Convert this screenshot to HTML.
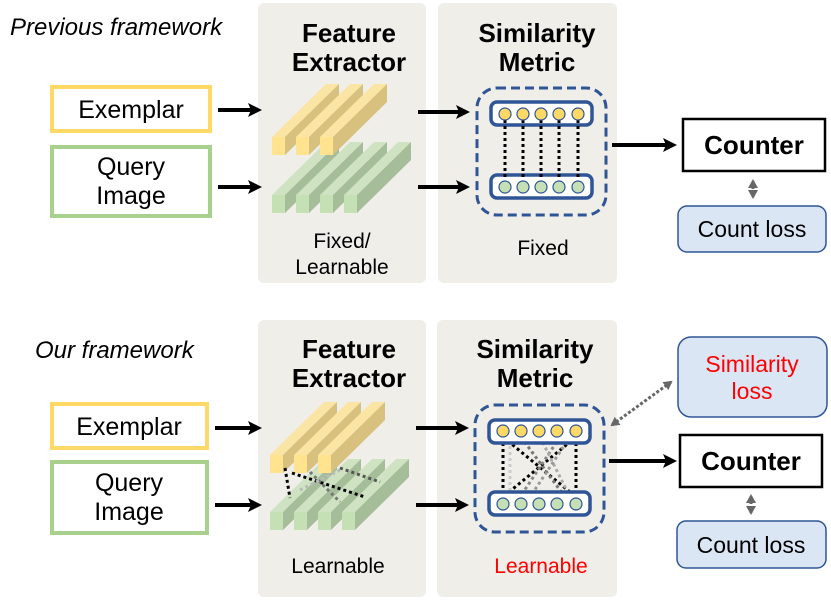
<!DOCTYPE html>
<html><head><meta charset="utf-8"><style>
html,body{margin:0;padding:0;background:#fff;}
svg{display:block;}
text{font-family:"Liberation Sans",sans-serif;}
</style></head><body>
<svg width="831" height="603" viewBox="0 0 831 603" xmlns="http://www.w3.org/2000/svg">
<defs>
<g id="yb">
 <polygon points="0,0 13,0 67,-53 54,-53" fill="#fbe5a4"/>
 <polygon points="13,0 13,18 67,-35 67,-53" fill="#d8c07f"/>
 <rect x="0" y="0" width="13" height="18" fill="#ffe38f"/>
</g>
<g id="gb">
 <polygon points="0,0 13,0 67,-53 54,-53" fill="#cfe3c2"/>
 <polygon points="13,0 13,18 67,-35 67,-53" fill="#a5bd98"/>
 <rect x="0" y="0" width="13" height="18" fill="#c5e0b4"/>
</g>
<marker id="ah" markerWidth="14" markerHeight="16" refX="10" refY="8" orient="auto" markerUnits="userSpaceOnUse">
 <path d="M0,1 L14,8 L0,15 L3,8 Z" fill="#000"/>
</marker>
<marker id="gh" markerWidth="10" markerHeight="10" refX="7" refY="5" orient="auto-start-reverse" markerUnits="userSpaceOnUse">
 <path d="M0,0 L9,5 L0,10 Z" fill="#666"/>
</marker>
<g id="nodes">
 <rect x="491" y="0" width="101" height="23" rx="6" fill="#fff" stroke="#2f5597" stroke-width="3.5"/>
</g>
</defs>

<!-- TOP -->
<text x="10" y="35" font-size="24" font-style="italic">Previous framework</text>
<rect x="258" y="3" width="168" height="280" rx="6" fill="#efeee9"/>
<rect x="438" y="3" width="179" height="280" rx="6" fill="#efeee9"/>
<text x="349" y="42" font-size="26" font-weight="bold" text-anchor="middle">Feature</text>
<text x="349" y="71" font-size="26" font-weight="bold" text-anchor="middle">Extractor</text>
<text x="537" y="42" font-size="26" font-weight="bold" text-anchor="middle">Similarity</text>
<text x="537" y="71" font-size="26" font-weight="bold" text-anchor="middle">Metric</text>

<rect x="52" y="87" width="158" height="44" fill="#fff" stroke="#ffd966" stroke-width="4"/>
<text x="131" y="118" font-size="25" text-anchor="middle">Exemplar</text>
<rect x="52" y="147" width="158" height="69" fill="#fff" stroke="#a9d18e" stroke-width="4"/>
<text x="131" y="175" font-size="25" text-anchor="middle">Query</text>
<text x="131" y="204" font-size="25" text-anchor="middle">Image</text>

<g stroke="#000" stroke-width="4" fill="none" marker-end="url(#ah)">
<line x1="218" y1="110" x2="258" y2="110"/>
<line x1="218" y1="187" x2="258" y2="187"/>
<line x1="418" y1="112" x2="466" y2="112"/>
<line x1="418" y1="187" x2="466" y2="187"/>
<line x1="612" y1="145" x2="673" y2="145"/>
</g>

<use href="#gb" x="272" y="195"/><use href="#gb" x="296" y="195"/><use href="#gb" x="320" y="195"/><use href="#gb" x="344" y="195"/>
<use href="#yb" x="272" y="137"/><use href="#yb" x="296" y="137"/><use href="#yb" x="320" y="137"/>

<text x="342" y="248" font-size="21" text-anchor="middle">Fixed/</text>
<text x="342" y="274" font-size="21" text-anchor="middle">Learnable</text>

<rect x="477" y="88" width="129" height="127" rx="20" fill="none" stroke="#2f5597" stroke-width="3" stroke-dasharray="9,5"/>
<use href="#nodes" y="102"/><use href="#nodes" y="175"/>
<g stroke="#000" stroke-width="3" stroke-dasharray="3,3">
<line x1="505" y1="120" x2="505" y2="180"/><line x1="523" y1="120" x2="523" y2="180"/><line x1="541" y1="120" x2="541" y2="180"/><line x1="559" y1="120" x2="559" y2="180"/><line x1="578" y1="120" x2="578" y2="180"/>
</g>
<g fill="#ffd966" stroke="#2f5597" stroke-width="1.2">
<circle cx="505" cy="114" r="6"/><circle cx="523" cy="114" r="6"/><circle cx="541" cy="114" r="6"/><circle cx="559" cy="114" r="6"/><circle cx="578" cy="114" r="6"/>
</g>
<g fill="#c5e0b4" stroke="#2f5597" stroke-width="1.2">
<circle cx="505" cy="187" r="6"/><circle cx="523" cy="187" r="6"/><circle cx="541" cy="187" r="6"/><circle cx="559" cy="187" r="6"/><circle cx="578" cy="187" r="6"/>
</g>
<text x="543" y="255" font-size="21" text-anchor="middle">Fixed</text>

<rect x="683" y="119" width="142" height="52" fill="#fff" stroke="#000" stroke-width="2.5"/>
<text x="754" y="154" font-size="26" font-weight="bold" text-anchor="middle">Counter</text>
<rect x="678" y="206" width="148" height="46" rx="9" fill="#dae6f4" stroke="#2f5597" stroke-width="1.5"/>
<text x="752" y="237" font-size="23" text-anchor="middle">Count loss</text>
<line x1="753" y1="181" x2="753" y2="197" stroke="#666" stroke-width="3" stroke-dasharray="3,2" marker-end="url(#gh)" marker-start="url(#gh)"/>

<!-- BOTTOM -->
<text x="35" y="358" font-size="24" font-style="italic">Our framework</text>
<rect x="258" y="320" width="168" height="277" rx="6" fill="#efeee9"/>
<rect x="437" y="320" width="180" height="277" rx="6" fill="#efeee9"/>
<text x="349" y="358" font-size="26" font-weight="bold" text-anchor="middle">Feature</text>
<text x="349" y="387" font-size="26" font-weight="bold" text-anchor="middle">Extractor</text>
<text x="535" y="358" font-size="26" font-weight="bold" text-anchor="middle">Similarity</text>
<text x="535" y="387" font-size="26" font-weight="bold" text-anchor="middle">Metric</text>

<rect x="52" y="404" width="155" height="44" fill="#fff" stroke="#ffd966" stroke-width="4"/>
<text x="129" y="435" font-size="25" text-anchor="middle">Exemplar</text>
<rect x="52" y="462" width="155" height="71" fill="#fff" stroke="#a9d18e" stroke-width="4"/>
<text x="129" y="491" font-size="25" text-anchor="middle">Query</text>
<text x="129" y="520" font-size="25" text-anchor="middle">Image</text>

<g stroke="#000" stroke-width="4" fill="none" marker-end="url(#ah)">
<line x1="215" y1="428" x2="258" y2="428"/>
<line x1="215" y1="505" x2="258" y2="505"/>
<line x1="416" y1="428" x2="465" y2="428"/>
<line x1="416" y1="505" x2="465" y2="505"/>
<line x1="609" y1="461" x2="673" y2="461"/>
</g>

<use href="#gb" x="270" y="512"/><use href="#gb" x="294" y="512"/><use href="#gb" x="318" y="512"/><use href="#gb" x="342" y="512"/>
<use href="#yb" x="270" y="455"/><use href="#yb" x="294" y="455"/><use href="#yb" x="318" y="455"/>
<g stroke-width="3" stroke-dasharray="3,3" fill="none">
<line x1="285" y1="468" x2="290" y2="498" stroke="#000"/>
<line x1="292" y1="473" x2="365" y2="497" stroke="#000"/>
<line x1="310" y1="472" x2="340" y2="502" stroke="#777"/>
<line x1="340" y1="468" x2="380" y2="482" stroke="#555"/>
<line x1="300" y1="490" x2="340" y2="470" stroke="#bbb"/>
</g>
<text x="338" y="573" font-size="21" text-anchor="middle">Learnable</text>

<rect x="475" y="405" width="129" height="127" rx="20" fill="none" stroke="#2f5597" stroke-width="3" stroke-dasharray="9,5"/>
<g stroke-width="3" stroke-dasharray="3,3">
<line x1="503" y1="437" x2="503" y2="497" stroke="#000"/>
<line x1="576" y1="437" x2="576" y2="497" stroke="#000"/>
<line x1="503" y1="437" x2="576" y2="497" stroke="#000"/>
<line x1="576" y1="437" x2="503" y2="497" stroke="#000"/>
<line x1="521" y1="437" x2="565" y2="497" stroke="#777"/>
<line x1="560" y1="437" x2="520" y2="497" stroke="#888"/>
<line x1="510" y1="440" x2="510" y2="497" stroke="#ccc"/>
<line x1="540" y1="437" x2="570" y2="497" stroke="#aaa"/>
<line x1="570" y1="437" x2="530" y2="497" stroke="#999"/>
</g>
<use href="#nodes" x="-2" y="420"/><use href="#nodes" x="-2" y="492"/>
<g fill="#ffd966" stroke="#2f5597" stroke-width="1.2">
<circle cx="503" cy="431" r="6"/><circle cx="521" cy="431" r="6"/><circle cx="539" cy="431" r="6"/><circle cx="557" cy="431" r="6"/><circle cx="576" cy="431" r="6"/>
</g>
<g fill="#c5e0b4" stroke="#2f5597" stroke-width="1.2">
<circle cx="503" cy="504" r="6"/><circle cx="521" cy="504" r="6"/><circle cx="539" cy="504" r="6"/><circle cx="557" cy="504" r="6"/><circle cx="576" cy="504" r="6"/>
</g>
<text x="541" y="573" font-size="21" text-anchor="middle" fill="#ff0000">Learnable</text>

<rect x="678" y="337" width="149" height="80" rx="13" fill="#dae6f4" stroke="#2f5597" stroke-width="1.5"/>
<text x="752" y="372" font-size="23" text-anchor="middle" fill="#ff0000">Similarity</text>
<text x="752" y="399" font-size="23" text-anchor="middle" fill="#ff0000">loss</text>
<line x1="612" y1="425" x2="671" y2="382" stroke="#666" stroke-width="3" stroke-dasharray="3,2" marker-end="url(#gh)" marker-start="url(#gh)"/>

<rect x="680" y="435" width="142" height="52" fill="#fff" stroke="#000" stroke-width="2.5"/>
<text x="751" y="470" font-size="26" font-weight="bold" text-anchor="middle">Counter</text>
<rect x="677" y="521" width="149" height="47" rx="9" fill="#dae6f4" stroke="#2f5597" stroke-width="1.5"/>
<text x="751" y="553" font-size="23" text-anchor="middle">Count loss</text>
<line x1="751" y1="496" x2="751" y2="513" stroke="#666" stroke-width="3" stroke-dasharray="3,2" marker-end="url(#gh)" marker-start="url(#gh)"/>
</svg>
</body></html>
